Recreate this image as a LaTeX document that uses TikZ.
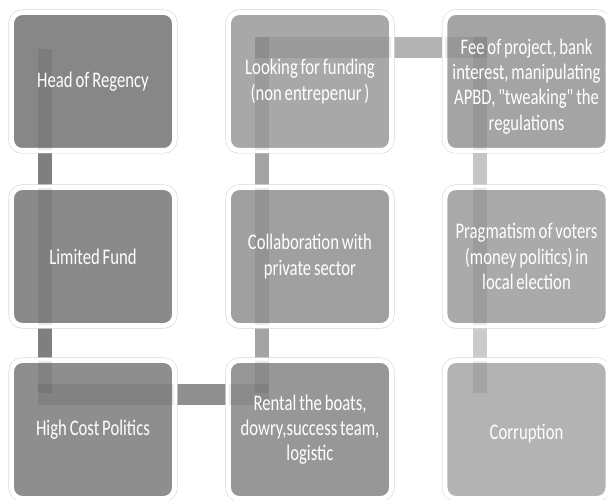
\documentclass[tikz,border=0pt]{standalone}
\usepackage{fontspec}
\newfontfamily\cellfont{Carlito}[FakeStretch=0.75, WordSpace=0.75]
\usepackage{xcolor}
\usetikzlibrary{calc}
\pgfdeclarelayer{background}
\pgfsetlayers{background,main}
\definecolor{barA}{HTML}{7F7F7F}
\definecolor{barB}{HTML}{8F8F8F}
\definecolor{barC}{HTML}{A4A4A4}
\definecolor{barD}{HTML}{B3B3B3}
\definecolor{barE}{HTML}{C6C6C6}
\definecolor{barF}{HTML}{CBCBCB}
\tikzset{
    cell/.style={rectangle, rounded corners=0.32cm, minimum width=4.89cm, minimum height=4.14cm, inner sep=0pt, draw=white, line width=0.15cm, preaction={draw=black!18, line width=0.18cm}},
    celltext/.style={text=white, align=flush center, text width=4.7cm, font=\cellfont\fontsize{19}{21.5}\selectfont},
    vbar/.style={line width=0.42cm},
    hbar/.style={line width=0.63cm},
    shade/.style={draw=black, opacity=0.08}
}
\begin{document}
\begin{tikzpicture}[x=0.03cm, y=0.03cm]
    \useasboundingbox (0,0) rectangle (607,500);
    % boxes
    \node[cell, fill={rgb,255:red,135;green,135;blue,135}] (hr) at (93,418.5) {};
    \node[cell, fill={rgb,255:red,138;green,138;blue,138}] (lf) at (93,243.5) {};
    \node[cell, fill={rgb,255:red,142;green,142;blue,142}] (hcp) at (93,70.5) {};
    \node[cell, fill={rgb,255:red,168;green,168;blue,168}] (fund) at (310,418.5) {};
    \node[cell, fill={rgb,255:red,160;green,160;blue,160}] (collab) at (310,243.5) {};
    \node[cell, fill={rgb,255:red,151;green,151;blue,151}] (rental) at (310,70.5) {};
    \node[cell, fill={rgb,255:red,164;green,164;blue,164}] (fee) at (526.5,418.5) {};
    \node[cell, fill={rgb,255:red,170;green,170;blue,170}] (prag) at (526.5,243.5) {};
    \node[cell, fill={rgb,255:red,179;green,179;blue,179}] (corr) at (526.5,70.5) {};
    % bent connector behind the boxes
    \begin{pgfonlayer}{background}
        \draw[vbar, barA] ($(hr)+(-48,32.5)$) -- ($(hcp)+(-48,36.5)$);
        \draw[hbar, barB] ($(hcp)+(-55,34.5)$) -- ($(rental)+(-41,34.5)$);
        \draw[vbar, barC] ($(rental)+(-48,36.5)$) -- ($(fund)+(-48,44.5)$);
        \draw[hbar, barD] ($(fund)+(-55,34)$) -- ($(fee)+(-40,34)$);
        \draw[vbar, barE] ($(fee)+(-47,44.5)$) -- ($(prag)+(-47,0)$);
        \draw[vbar, barF] ($(prag)+(-47,0)$) -- ($(corr)+(-47,36.5)$);
    \end{pgfonlayer}
    % connector seen through the boxes
    \begin{scope}
        \clip \foreach \n in {hr,lf,hcp,fund,collab,rental,fee,prag,corr} {([shift={(3,3)}]\n.south west) rectangle ([shift={(-3,-3)}]\n.north east)};
        \draw[vbar, shade] ($(hr)+(-48,32.5)$) -- ($(hcp)+(-48,36.5)$);
        \draw[hbar, shade] ($(hcp)+(-55,34.5)$) -- ($(rental)+(-41,34.5)$);
        \draw[vbar, shade] ($(rental)+(-48,36.5)$) -- ($(fund)+(-48,44.5)$);
        \draw[hbar, shade] ($(fund)+(-55,34)$) -- ($(fee)+(-40,34)$);
        \draw[vbar, shade] ($(fee)+(-47,44.5)$) -- ($(corr)+(-47,36.5)$);
    \end{scope}
    % labels
    \node[celltext] (hrt) at (hr) {Head of Regency};
    \node[celltext] (lft) at (lf) {Limited Fund};
    \node[celltext] (hcpt) at (hcp) {High Cost Politics};
    \node[celltext] (fundt) at (fund) {Looking for funding\\(non entrepenur )};
    \node[celltext] (collabt) at (collab) {Collaboration with\\private sector};
    \node[celltext] (rentalt) at (rental) {Rental the boats,\\dowry,success team,\\logistic};
    \node[celltext] (feet) at ($(fee)+(0,-5)$) {Fee of project, bank\\interest, manipulating\\APBD, "tweaking" the\\regulations};
    \node[celltext] (pragt) at (prag) {Pragmatism of voters\\(money politics) in\\local election};
    \node[celltext] (corrt) at ($(corr)+(0,-4)$) {Corruption};
\end{tikzpicture}
\end{document}
